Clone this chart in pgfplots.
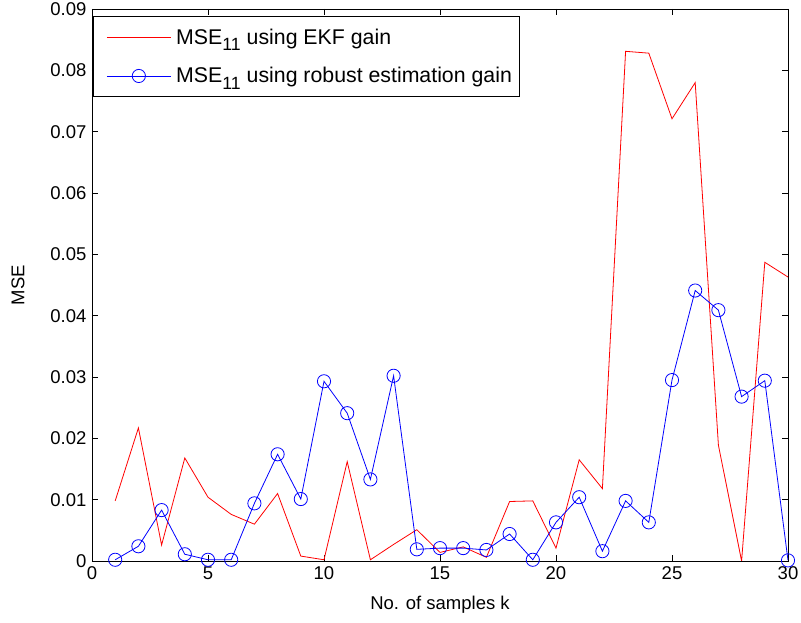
\documentclass[border=0pt]{standalone}
\usepackage{pgfplots}
\pgfplotsset{compat=1.18}
\usepackage{fontspec}
\setmainfont{Liberation Sans}
\newcommand{\sub}[1]{\raisebox{-0.55ex}{\fontsize{17.7}{17.7}\selectfont #1}}
\begin{document}
\begin{tikzpicture}[x=1pt,y=1pt]
\begin{axis}[
  scale only axis,
  width=696pt, height=552pt,
  xmin=0, xmax=30, ymin=0, ymax=0.09,
  xtick={0,5,...,30},
  ytick={0,0.01,...,0.09},
  scaled y ticks=false,
  yticklabel style={/pgf/number format/fixed,/pgf/number format/precision=2},
  /pgf/number format/assume math mode=true,
  tick align=inside,
  major tick length=6pt,
  tick style={black, line width=0.6pt},
  axis line style={line width=0.8pt},
  font=\fontsize{18.5}{22}\selectfont,
  xlabel={No. of samples k},
  ylabel={MSE},
  xlabel style={at={(axis description cs:0.5,0)}, anchor=north, yshift=-32pt},
  ylabel style={at={(axis description cs:0,0.5)}, anchor=south, yshift=64pt},
  xticklabel style={yshift=-2pt},
  yticklabel style={xshift=-2pt},
  legend style={at={(0.0015,0.987)}, anchor=north west, draw=black, line width=0.8pt,
    font=\fontsize{21.3}{25}\selectfont, row sep=18pt, column sep=3pt, inner xsep=5pt, inner ysep=10pt,
    cells={anchor=west}},
  legend cell align=left,
  legend image code/.code={\path (0pt,0pt); \draw[mark repeat=2,mark phase=2,#1] plot coordinates {(8pt,0pt) (40pt,0pt) (72pt,0pt)};},
]
\addplot[red, line width=0.8pt, mark=none] coordinates {
(1,0.0098) (2,0.0217) (3,0.0026) (4,0.0168) (5,0.0104) (6,0.0076) (7,0.0060) (8,0.0110) (9,0.0008) (10,0.0002)
(11,0.0162) (12,0.0002) (13,0.0027) (14,0.0051) (15,0.0014) (16,0.0023) (17,0.0006) (18,0.0097) (19,0.0098) (20,0.0021)
(21,0.0165) (22,0.0118) (23,0.0831) (24,0.0828) (25,0.0721) (26,0.0780) (27,0.0189) (28,0.0000) (29,0.0487) (30,0.0463)
};
\addlegendentry{MSE\sub{11} using EKF gain}
\addplot[blue, line width=0.8pt, mark=o, mark size=6.6pt, mark options={line width=0.8pt}] coordinates {
(1,0.0002) (2,0.0024) (3,0.0083) (4,0.0011) (5,0.0002) (6,0.0002) (7,0.0094) (8,0.0174) (9,0.0101) (10,0.0293)
(11,0.0241) (12,0.0133) (13,0.0302) (14,0.0019) (15,0.0021) (16,0.0021) (17,0.0018) (18,0.0044) (19,0.0002) (20,0.0063)
(21,0.0104) (22,0.0016) (23,0.0098) (24,0.0063) (25,0.0295) (26,0.0441) (27,0.0409) (28,0.0268) (29,0.0294) (30,0.0001)
};
\addlegendentry{MSE\sub{11} using robust estimation gain\vrule width 0pt height 0pt depth 17pt}
\end{axis}
\pgfresetboundingbox
\path (-92pt,-62pt) rectangle (709pt,561pt);
\end{tikzpicture}
\end{document}
